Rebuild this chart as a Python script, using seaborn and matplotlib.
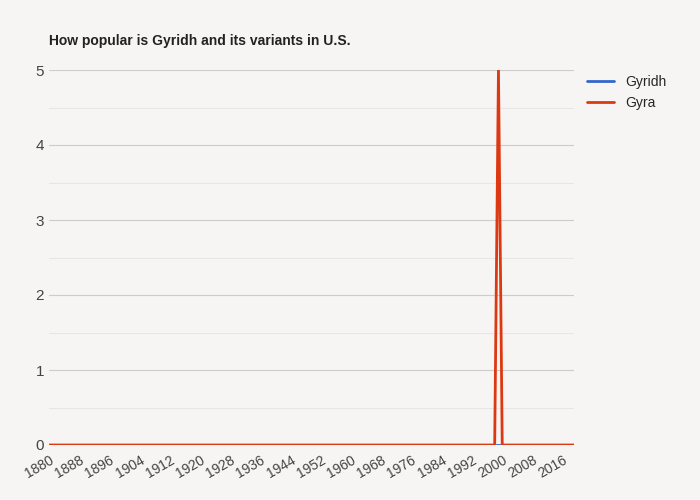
import matplotlib
matplotlib.use("Agg")
import matplotlib.pyplot as plt
import seaborn as sns
import numpy as np
import pandas as pd

years = list(range(1880, 2020))
gyridh = [0] * len(years)
gyra = [0] * len(years)
gyra[years.index(1999)] = 5

df = pd.DataFrame({"Year": years * 2,
                   "Count": gyridh + gyra,
                   "Name": ["Gyridh"] * len(years) + ["Gyra"] * len(years)})

sns.set_style("white")
plt.rcParams['font.family'] = ['Liberation Sans', 'DejaVu Sans']
fig, ax = plt.subplots(figsize=(7, 5), dpi=100)
fig.patch.set_facecolor("#f7f5f4")
ax.set_facecolor("#f7f5f4")
sns.lineplot(data=df, x="Year", y="Count", hue="Name",
             palette={"Gyridh": "#3366cc", "Gyra": "#dc3912"}, linewidth=2, ax=ax)

ax.set_xlim(1880, 2019)
ax.set_ylim(0, 5)
ax.set_xticks(range(1880, 2017, 8))
ax.set_xticklabels([str(y) for y in range(1880, 2017, 8)], rotation=30, ha="right",
                   rotation_mode="anchor", fontsize=10, color="#444444")
ax.set_yticks(range(0, 6))
ax.set_yticks(np.arange(0.5, 5, 1), minor=True)
ax.tick_params(axis="y", labelsize=11, colors="#444444", length=0, which="both")
ax.tick_params(axis="x", length=0, pad=6)
ax.grid(axis="y", which="major", color="#cccccc", linewidth=0.8)
ax.grid(axis="y", which="minor", color="#e6e6e6", linewidth=0.8)
for s in ax.spines.values():
    s.set_visible(False)
ax.set_xlabel("")
ax.set_ylabel("")
ax.set_title("How popular is Gyridh and its variants in U.S.", loc="left",
             fontsize=10, fontweight="bold", color="#222222", x=0.0, pad=18)
leg = ax.legend(loc="upper left", bbox_to_anchor=(1.0, 1.02), frameon=False, fontsize=10)
fig.subplots_adjust(left=0.07, right=0.82, top=0.86, bottom=0.11)
fig.savefig("out.png")
